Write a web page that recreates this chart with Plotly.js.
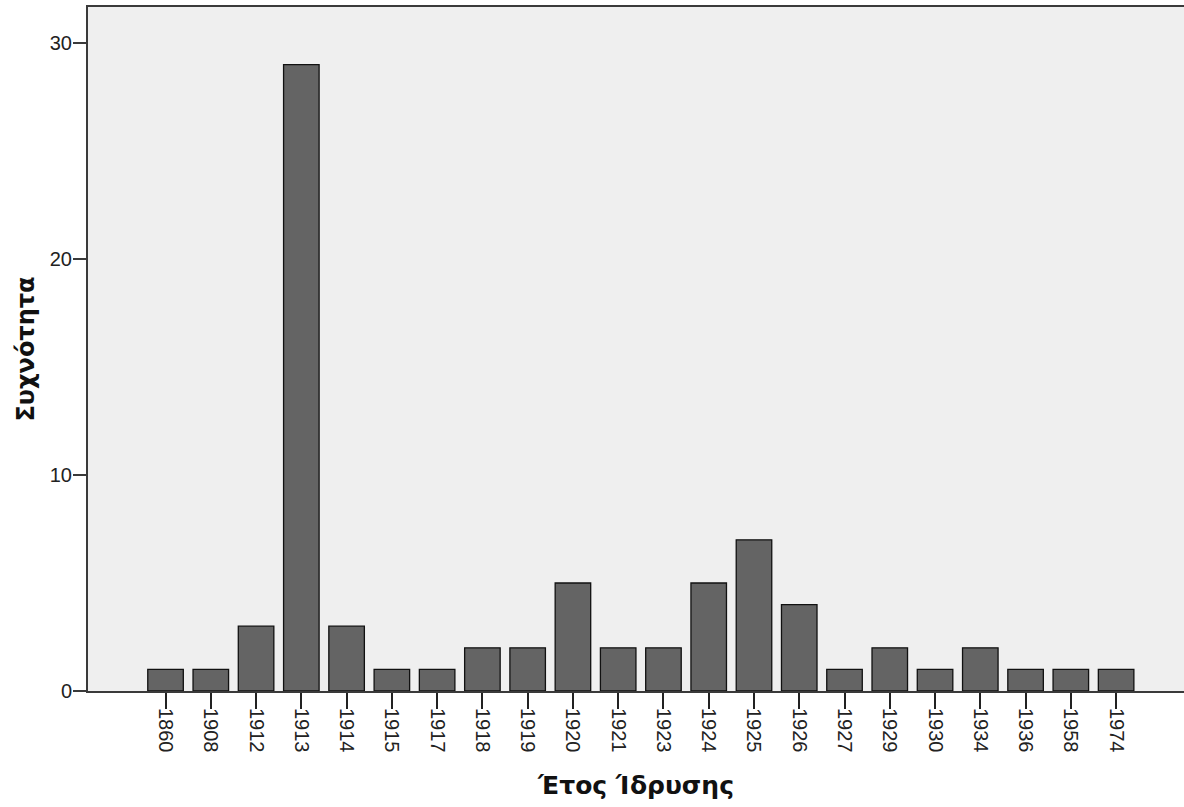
<!DOCTYPE html>
<html>
<head>
<meta charset="utf-8">
<script src="https://cdn.plot.ly/plotly-3.0.1.min.js"></script>
<style>html,body{margin:0;padding:0;background:#fff;}#chart{width:1184px;height:807px;}</style>
</head>
<body>
<div id="chart"></div>
<script>
const years = ["1860","1908","1912","1913","1914","1915","1917","1918","1919","1920","1921","1923","1924","1925","1926","1927","1929","1930","1934","1936","1958","1974"];
const counts = [1,1,3,29,3,1,1,2,2,5,2,2,5,7,4,1,2,1,2,1,1,1];
const yTicks = [0,10,20,30];
const xTitle = "Έτος Ίδρυσης";
const yTitle = "Συχνότητα";

const yTitleFont = {size: 24, color: '#111', family: '"DejaVu Sans", Verdana, sans-serif', weight: 'bold'};
const xTitleFont = {size: 25, color: '#111', family: '"DejaVu Sans", Verdana, sans-serif', weight: 'bold'};

const trace = {
  type: 'bar',
  x: years,
  y: counts,
  marker: {color: '#646464', line: {color: '#111111', width: 1.3}},
  hoverinfo: 'x+y'
};

const layout = {
  width: 1184, height: 807,
  margin: {l: 88, r: 0, t: 7, b: 116},
  paper_bgcolor: '#ffffff',
  plot_bgcolor: '#efefef',
  bargap: 0.215,
  showlegend: false,
  font: {family: 'Arial, "Liberation Sans", sans-serif', color: '#222'},
  xaxis: {
    type: 'category',
    range: [-1.713, 22.5],
    tickangle: 90,
    ticks: 'outside', ticklen: 16, tickwidth: 2, tickcolor: '#222',
    ticklabelstandoff: -5,
    tickfont: {size: 20, color: '#222'},
    showline: true, linecolor: '#3a3a3a', linewidth: 2, mirror: true,
    showgrid: false, zeroline: false,
    automargin: false,
    title: {text: xTitle, font: xTitleFont, standoff: 25}
  },
  yaxis: {
    range: [0, 31.67],
    tickvals: yTicks,
    ticks: 'outside', ticklen: 13, tickwidth: 2, tickcolor: '#3a3a3a',
    ticklabelstandoff: -3,
    tickfont: {size: 20, color: '#222'},
    showline: true, linecolor: '#3a3a3a', linewidth: 2, mirror: false,
    showgrid: false, zeroline: false,
    automargin: false,
    title: {text: yTitle, font: yTitleFont, standoff: 8}
  }
};

Plotly.newPlot('chart', [trace], layout, {displayModeBar: false, staticPlot: true});
</script>
</body>
</html>
